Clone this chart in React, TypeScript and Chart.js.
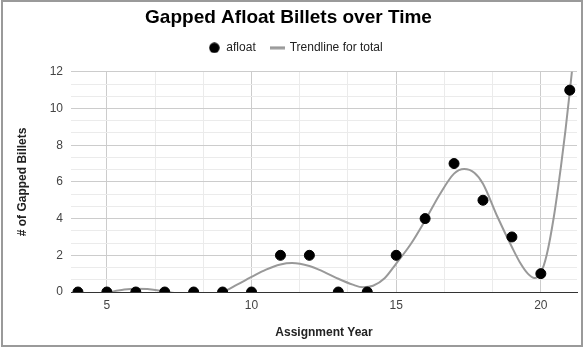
import React, { useEffect, useRef } from "react";
import { Chart, registerables } from "chart.js";

Chart.register(...registerables);

// Data
const years = [4, 5, 6, 7, 8, 9, 10, 11, 12, 13, 14, 15, 16, 17, 18, 19, 20, 21];
const afloat = [0, 0, 0, 0, 0, 0, 0, 2, 2, 0, 0, 2, 4, 7, 5, 3, 1, 11];

// Trendline
const trendX = [5.0, 5.2, 5.6, 6.0, 6.4, 6.8, 7.2, 7.8, 8.4, 9.0, 9.5, 10.0, 10.5, 11.0, 11.4, 12.0, 12.5, 13.0, 13.5, 13.85, 14.2, 14.6, 15.0, 15.5, 16.0, 16.5, 17.0, 17.35, 17.7, 18.0, 18.5, 19.0, 19.3, 19.55, 19.78, 20.0, 20.2, 20.45, 20.7, 20.85, 21.0, 21.1];
const trendY = [-0.15, 0.02, 0.13, 0.18, 0.16, 0.08, -0.02, -0.12, -0.12, 0.0, 0.4, 0.82, 1.22, 1.5, 1.58, 1.42, 1.1, 0.72, 0.4, 0.26, 0.34, 0.75, 1.55, 2.6, 3.9, 5.3, 6.45, 6.7, 6.5, 5.9, 4.1, 2.45, 1.55, 1.0, 0.76, 1.05, 2.0, 4.1, 6.9, 8.8, 10.9, 12.4];

const xTicks = [5, 6.6667, 8.3333, 10, 11.6667, 13.3333, 15, 16.6667, 18.3333, 20];
const xLabels = [5, 10, 15, 20];
const yTicks = [0, 0.6667, 1.3333, 2, 2.6667, 3.3333, 4, 4.6667, 5.3333, 6, 6.6667, 7.3333, 8, 8.6667, 9.3333, 10, 10.6667, 11.3333, 12];
const yLabels = [0, 2, 4, 6, 8, 10, 12];

const X_MIN = 3.76;
const X_MAX = 21.25;
const Y_MIN = 0;
const Y_MAX = 12;

const FONT = "Arial, 'Liberation Sans', sans-serif";

const isLabel = (v: number, list: number[]) => list.some((l) => Math.abs(l - v) < 1e-3);

export default function App() {
  const ref = useRef<HTMLCanvasElement | null>(null);

  useEffect(() => {
    if (!ref.current) return;
    document.body.style.margin = "0";

    const legendPatch = {
      id: "legendPatch",
      beforeInit(chart: any) {
        const legend = chart.legend;
        if (legend && !legend._patched) {
          const origFit = legend.fit.bind(legend);
          legend.fit = function () {
            origFit();
            this.height += 2;
          };
          const origDraw = legend.draw.bind(legend);
          legend.draw = function () {
            const ctx = this.ctx;
            ctx.save();
            ctx.translate(7, -6);
            origDraw();
            ctx.restore();
          };
          legend._patched = true;
        }
      },
    };

    const chart = new Chart(ref.current, {
      type: "scatter",
      data: {
        datasets: [
          {
            label: "afloat",
            data: years.map((x, i) => ({ x, y: afloat[i] })),
            backgroundColor: "#000000",
            borderColor: "#000000",
            pointRadius: 5,
            pointHoverRadius: 5,
            clip: 0 as any,
          },
          {
            label: "Trendline for total",
            type: "line" as any,
            data: trendX.map((x, i) => ({ x, y: trendY[i] })),
            borderColor: "#999999",
            backgroundColor: "#999999",
            borderWidth: 2,
            pointRadius: 0,
            showLine: true,
            cubicInterpolationMode: "monotone",
            fill: false,
          } as any,
        ],
      },
      options: {
        animation: false,
        responsive: false,
        maintainAspectRatio: false,
        layout: { padding: { left: 0, right: 7, top: 0, bottom: 0 } },
        plugins: {
          tooltip: { enabled: false },
          title: {
            display: true,
            text: "Gapped Afloat Billets over Time",
            color: "#000000",
            font: { family: FONT, size: 19, weight: "bold" },
            padding: { top: 6, bottom: 3 },
          },
          legend: {
            display: true,
            labels: {
              font: { family: FONT, size: 12 },
              color: "#222222",
              usePointStyle: true,
              boxHeight: 12,
              boxWidth: 16,
              padding: 16,
              generateLabels: () => {
                const dot = document.createElement("canvas");
                dot.width = 11;
                dot.height = 11;
                const dc = dot.getContext("2d")!;
                dc.fillStyle = "#000";
                dc.beginPath();
                dc.arc(5.5, 5.5, 5.2, 0, Math.PI * 2);
                dc.fill();
                const line = document.createElement("canvas");
                line.width = 15;
                line.height = 4;
                const lc = line.getContext("2d")!;
                lc.fillStyle = "#999";
                lc.fillRect(0, 0.5, 15, 3);
                return [
                  { text: "afloat", pointStyle: dot as any, fillStyle: "#000", strokeStyle: "#000", lineWidth: 0, hidden: false, datasetIndex: 0, fontColor: "#222" },
                  { text: "Trendline for total", pointStyle: line as any, fillStyle: "#999", strokeStyle: "#999", lineWidth: 0, hidden: false, datasetIndex: 1, fontColor: "#222" },
                ] as any;
              },
            },
          },
        },
        scales: {
          x: {
            type: "linear",
            min: X_MIN,
            max: X_MAX,
            afterBuildTicks: (scale: any) => {
              scale.ticks = xTicks.map((v) => ({ value: v }));
            },
            afterFit: (scale: any) => {
              scale.height = 55;
            },
            ticks: {
              autoSkip: false,
              maxRotation: 0,
              padding: 6,
              color: "#444444",
              font: { family: FONT, size: 12 },
              callback: (v: any) => (isLabel(Number(v), xLabels) ? String(Math.round(Number(v))) : ""),
            },
            grid: {
              drawTicks: false,
              lineWidth: 1,
              color: (ctx: any) => (isLabel(ctx.tick?.value, xLabels) ? "#cccccc" : "#ebebeb"),
            },
            border: { display: true, color: "#333333", width: 1 },
            title: {
              display: true,
              text: "Assignment Year",
              color: "#222222",
              font: { family: FONT, size: 12, weight: "bold" },
              padding: { top: 0, bottom: 7 },
            },
          },
          y: {
            type: "linear",
            min: Y_MIN,
            max: Y_MAX,
            afterBuildTicks: (scale: any) => {
              scale.ticks = yTicks.map((v) => ({ value: v }));
            },
            afterFit: (scale: any) => {
              scale.width = 71;
            },
            ticks: {
              autoSkip: false,
              padding: 8,
              color: "#444444",
              font: { family: FONT, size: 12 },
              callback: (v: any) => (isLabel(Number(v), yLabels) ? String(Math.round(Number(v))) : ""),
            },
            grid: {
              drawTicks: false,
              lineWidth: 1,
              color: (ctx: any) => {
                const v = ctx.tick?.value;
                if (Math.abs(v) < 1e-6) return "#333333";
                return isLabel(v, yLabels) ? "#cccccc" : "#ebebeb";
              },
            },
            border: { display: false },
            title: {
              display: true,
              text: "# of Gapped Billets",
              color: "#222222",
              font: { family: FONT, size: 12, weight: "bold" },
              padding: { top: 15, bottom: 0 },
            },
          },
        },
      },
      plugins: [legendPatch],
    });

    return () => chart.destroy();
  }, []);

  return (
    <div style={{ position: "relative", width: 584, height: 347, background: "#ffffff" }}>
      <canvas ref={ref} width={584} height={347} style={{ display: "block", width: 584, height: 347 }} />
      <div
        style={{
          position: "absolute",
          left: 1,
          top: 0,
          width: 582,
          height: 347,
          boxSizing: "border-box",
          border: "2px solid #9a9a9a",
          pointerEvents: "none",
        }}
      />
    </div>
  );
}
